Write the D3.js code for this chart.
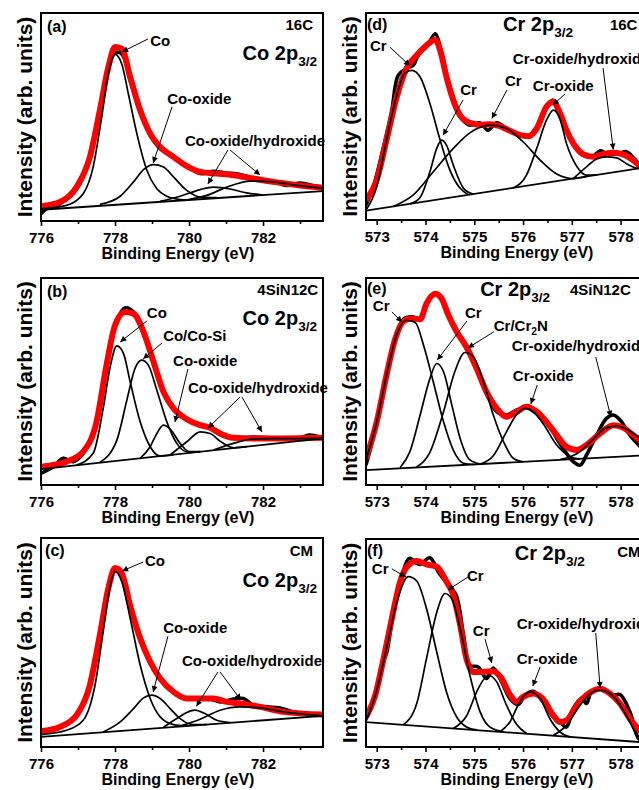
<!DOCTYPE html>
<html>
<head>
<meta charset="utf-8">
<script src="https://cdn.jsdelivr.net/npm/d3@7"></script>
<style>
  body { margin: 0; background: #fff; }
  svg { display: block; }
  text { font-family: "Liberation Sans", Arial, sans-serif; font-weight: bold; fill: #000; }
</style>
</head>
<body>
<svg id="chart" width="639" height="790"></svg>
<script>
// ---- axis ticks (eV) ----
const coTicks = [776, 778, 780, 782];
const coMinorTicks = [777, 779, 781, 783];
const crTicks = [573, 574, 575, 576, 577, 578];
const crMinorTicks = [573.5, 574.5, 575.5, 576.5, 577.5];

// ---- (a) 16C, Co 2p3/2 : [binding energy, intensity] ----
const envA = [[776.0,7.1],[776.51,9.1],[776.96,16.3],[777.32,30.8],[777.59,53.2],[777.82,74.0],[778.0,83.7],[778.18,82.9],[778.41,69.2],[778.68,53.2],[778.95,42.0],[779.22,35.6],[779.58,30.8],[779.94,26.4],[780.3,23.6],[780.75,22.8],[781.2,22.0],[781.74,20.4],[782.28,18.8],[783.0,17.1],[783.62,16.0]];
const dataA = [[776.0,3.5],[776.15,5.9],[776.51,8.3],[776.96,15.5],[777.32,30.0],[777.59,52.4],[777.82,73.2],[778.0,80.8],[778.18,80.4],[778.41,67.6],[778.68,52.4],[778.95,41.2],[779.22,34.8],[779.58,30.8],[779.8,27.6],[779.94,26.6],[780.3,22.8],[780.66,23.9],[781.02,23.1],[781.38,22.4],[781.92,19.6],[782.28,19.1],[782.64,17.1],[783.0,18.3],[783.36,17.0],[783.62,16.0]];
const bgA = [[776.0,5.4],[783.62,14.4]];
const coA = [[776.0,5.9],[776.69,7.5],[777.14,13.1],[777.41,26.0],[777.64,50.0],[777.82,70.8],[778.0,80.1],[778.18,75.6],[778.36,61.2],[778.59,42.0],[778.86,24.4],[779.13,15.5],[779.4,11.9],[779.76,10.3],[779.94,10.0]];
const coOxA = [[777.59,8.0],[778.14,11.9],[778.5,18.8],[778.77,24.7],[779.04,27.1],[779.31,26.0],[779.58,21.2],[779.94,14.7],[780.3,11.5],[780.75,11.2]];
const hydA1 = [[779.22,9.4],[779.76,11.9],[780.3,15.1],[780.66,16.3],[781.11,15.4],[781.56,13.5],[782.01,12.5]];
const hydA2 = [[779.94,10.1],[780.48,12.3],[781.02,16.3],[781.65,19.2],[782.28,18.8],[782.91,17.1],[783.62,15.7]];

// ---- (b) 4SiN12C, Co 2p3/2 ----
const envB = [[776.0,8.8],[776.69,11.3],[777.14,16.1],[777.5,30.5],[777.77,57.9],[778.0,77.2],[778.27,83.6],[778.5,82.8],[778.77,74.0],[779.04,59.5],[779.31,45.0],[779.58,37.0],[779.94,31.8],[780.3,28.9],[780.57,27.7],[780.84,24.9],[781.2,22.8],[781.74,22.5],[782.55,22.5],[783.62,22.8]];
const dataB = [[776.0,5.6],[776.33,8.8],[776.6,12.9],[776.87,11.3],[777.14,15.3],[777.5,29.7],[777.77,57.1],[778.0,76.4],[778.27,85.5],[778.5,83.6],[778.77,73.2],[779.04,58.7],[779.31,44.2],[779.58,36.7],[779.94,31.4],[780.3,29.3],[780.57,27.3],[780.84,24.4],[781.2,22.5],[781.74,23.2],[782.19,22.8],[782.55,22.2],[783.0,22.8],[783.27,24.1],[783.62,22.5]];
const bgB = [[776.0,7.7],[783.62,22.5]];
const coB = [[776.96,9.6],[777.41,15.3],[777.68,37.0],[777.86,56.3],[778.05,67.2],[778.23,63.5],[778.41,49.8],[778.68,30.5],[778.95,18.5],[779.22,14.0],[779.58,14.7]];
const coSiB = [[777.59,10.9],[778.05,21.7],[778.32,41.0],[778.54,56.3],[778.72,60.3],[778.9,57.9],[779.13,45.8],[779.4,30.5],[779.67,20.1],[779.94,16.1],[780.3,16.1]];
const coOxB = [[778.68,12.9],[778.95,18.5],[779.13,24.9],[779.31,28.9],[779.49,27.0],[779.76,20.1],[780.03,15.8],[780.3,16.1]];
const hydB1 = [[779.49,14.5],[779.94,20.9],[780.3,25.7],[780.57,24.9],[780.84,21.2],[781.2,18.0],[781.56,18.5]];
const hydB2 = [[780.66,16.9],[781.2,20.1],[781.74,22.3],[782.28,22.4],[782.82,22.4],[783.62,22.5]];

// ---- (c) CM, Co 2p3/2 ----
const envC = [[776.0,7.5],[776.51,9.6],[776.96,15.2],[777.32,29.6],[777.59,53.6],[777.82,76.0],[778.0,85.6],[778.18,83.2],[778.41,67.5],[778.68,52.0],[778.95,40.8],[779.22,32.8],[779.58,26.4],[779.94,23.2],[780.3,23.2],[780.66,23.2],[781.02,21.6],[781.38,20.8],[781.92,19.2],[782.55,16.8],[783.62,15.5]];
const dataC = [[776.0,6.4],[776.24,8.5],[776.51,9.4],[776.96,14.9],[777.32,29.3],[777.59,53.3],[777.82,75.2],[778.0,84.3],[778.18,82.4],[778.41,67.2],[778.68,51.2],[778.95,40.0],[779.22,32.5],[779.58,26.4],[779.8,23.5],[780.12,22.9],[780.48,23.5],[780.84,21.6],[781.2,22.9],[781.47,23.2],[781.74,20.0],[782.1,19.2],[782.46,18.7],[782.82,16.8],[783.18,16.0],[783.62,15.2]];
const bgC = [[776.0,4.8],[783.62,14.9]];
const coC = [[776.0,5.9],[776.69,8.0],[777.14,12.8],[777.46,29.6],[777.68,55.2],[777.86,76.0],[778.0,84.0],[778.18,79.2],[778.41,61.6],[778.68,39.2],[778.95,23.2],[779.22,14.4],[779.58,10.7],[779.94,10.0]];
const coOxC = [[777.68,7.2],[778.14,12.0],[778.5,18.4],[778.77,23.5],[778.99,24.8],[779.22,23.2],[779.49,18.4],[779.76,13.6],[780.12,10.7],[780.48,10.7]];
const hydC1 = [[779.31,9.4],[779.67,13.6],[779.94,16.5],[780.16,17.6],[780.43,16.0],[780.75,12.8],[781.11,11.7]];
const hydC2 = [[779.76,10.0],[780.3,13.3],[780.84,17.6],[781.38,19.2],[781.92,18.7],[782.55,16.8],[783.62,14.9]];

// ---- (d) 16C, Cr 2p3/2 ----
const envD = [[572.78,9.6],[573.0,19.3],[573.2,38.6],[573.41,59.5],[573.61,73.2],[573.82,79.6],[574.02,84.4],[574.2,87.1],[574.3,82.0],[574.43,69.1],[574.57,57.9],[574.71,50.6],[574.91,46.9],[575.12,46.0],[575.32,46.3],[575.53,45.3],[575.73,43.1],[575.94,41.0],[576.11,40.5],[576.28,44.2],[576.48,54.7],[576.62,57.1],[576.76,51.4],[576.89,43.4],[577.03,37.0],[577.23,31.8],[577.44,30.5],[577.64,31.8],[577.85,32.5],[578.05,31.7],[578.26,28.9],[578.37,26.5],[578.5,24.5]];
const dataD = [[572.78,7.2],[572.93,16.1],[573.14,35.4],[573.31,53.1],[573.44,69.9],[573.61,73.2],[573.75,74.8],[573.85,79.6],[574.02,83.6],[574.2,90.0],[574.3,83.6],[574.43,69.9],[574.57,57.1],[574.71,49.8],[574.91,45.8],[575.12,46.9],[575.28,43.4],[575.46,46.9],[575.66,44.2],[575.94,41.0],[576.11,40.2],[576.28,44.7],[576.48,55.0],[576.62,57.9],[576.76,50.6],[576.89,43.1],[577.03,36.7],[577.23,31.2],[577.44,30.9],[577.58,33.4],[577.71,32.2],[577.92,31.8],[578.12,33.0],[578.29,29.3],[578.37,27.3],[578.5,25.0]];
const bgD = [[572.78,4.5],[578.5,25.4]];
const cr1D = [[572.78,4.8],[573.0,16.1],[573.2,38.6],[573.41,60.3],[573.58,71.1],[573.72,72.3],[573.89,69.1],[574.09,56.3],[574.3,38.6],[574.5,24.1],[574.71,15.3],[574.88,12.2]];
const cr2D = [[573.68,7.8],[573.89,10.9],[574.09,23.3],[574.23,34.6],[574.33,38.6],[574.43,36.2],[574.57,26.5],[574.78,15.3],[574.98,12.5]];
const cr3D = [[573.34,6.5],[573.75,12.1],[574.16,23.3],[574.57,34.6],[574.91,42.1],[575.32,45.8],[575.66,44.2],[576.0,37.8],[576.35,28.9],[576.69,22.2],[577.03,20.0],[577.3,21.0]];
const crOxD = [[575.8,15.5],[576.07,21.7],[576.28,34.6],[576.48,48.2],[576.62,53.1],[576.76,48.6],[576.89,37.0],[577.1,26.0],[577.3,21.7],[577.51,21.8]];
const hydD = [[577.03,20.0],[577.3,25.7],[577.51,29.5],[577.71,30.5],[577.92,30.0],[578.12,27.2],[578.37,24.9],[578.5,25.4]];

// ---- (e) 4SiN12C, Cr 2p3/2 ----
const envE = [[572.78,12.9],[573.0,30.5],[573.2,53.1],[573.38,70.7],[573.55,79.1],[573.72,80.4],[573.89,80.1],[574.02,87.6],[574.2,92.4],[574.33,90.0],[574.47,82.0],[574.64,74.0],[574.84,66.7],[575.05,56.3],[575.25,45.0],[575.46,37.0],[575.66,33.0],[575.87,35.4],[576.07,37.8],[576.28,35.4],[576.48,30.5],[576.69,24.1],[576.89,18.5],[577.1,16.9],[577.3,19.3],[577.58,24.9],[577.85,28.9],[578.05,27.7],[578.26,24.1],[578.37,22.2],[578.5,19.5]];
const dataE = [[572.78,9.6],[573.0,29.7],[573.2,52.3],[573.38,70.4],[573.55,80.1],[573.72,81.2],[573.89,80.4],[574.02,87.6],[574.2,92.9],[574.33,90.0],[574.47,82.0],[574.64,74.0],[574.84,65.9],[575.05,55.5],[575.25,44.2],[575.46,35.4],[575.66,33.8],[575.87,36.2],[576.07,37.3],[576.28,34.6],[576.45,31.8],[576.69,22.5],[576.89,15.3],[577.03,11.3],[577.17,9.6],[577.3,14.5],[577.51,24.1],[577.71,32.2],[577.85,33.8],[577.99,31.4],[578.19,24.1],[578.37,19.3],[578.5,16.0]];
const bgE = [[572.78,7.2],[578.5,14.3]];
const cr1E = [[572.78,12.1],[573.0,30.5],[573.2,53.1],[573.41,72.7],[573.6,79.6],[573.79,78.5],[573.96,67.5],[574.16,49.8],[574.37,30.5],[574.57,16.9],[574.78,10.5],[574.98,9.9]];
const cr2E = [[573.48,8.4],[573.68,16.1],[573.89,33.8],[574.09,51.4],[574.23,58.7],[574.37,54.7],[574.54,38.6],[574.71,22.5],[574.91,12.1],[575.12,10.1]];
const cr3E = [[573.82,8.8],[574.09,15.8],[574.37,35.4],[574.6,54.7],[574.81,64.0],[574.98,61.9],[575.19,49.8],[575.39,33.8],[575.6,20.9],[575.8,12.9],[576.0,11.2]];
const crOxE = [[575.12,10.1],[575.39,14.1],[575.66,25.7],[575.87,34.1],[576.04,37.0],[576.21,35.4],[576.42,29.3],[576.69,19.3],[576.96,13.8],[577.17,12.6]];
const hydE = [[576.76,12.3],[577.17,16.1],[577.44,22.2],[577.71,27.7],[577.92,28.5],[578.12,27.0],[578.37,23.0],[578.5,20.5]];

// ---- (f) CM, Cr 2p3/2 ----
const envF = [[572.78,14.4],[572.97,24.9],[573.14,42.5],[573.31,61.8],[573.48,79.5],[573.65,87.5],[573.82,89.4],[574.02,87.8],[574.23,86.7],[574.43,79.5],[574.57,73.0],[574.71,58.6],[574.84,42.5],[574.98,36.1],[575.19,36.1],[575.39,36.4],[575.56,32.9],[575.73,25.2],[575.87,21.7],[576.0,24.1],[576.21,25.7],[576.41,23.0],[576.62,15.2],[576.76,12.0],[576.89,12.8],[577.1,20.1],[577.3,24.9],[577.58,28.0],[577.78,25.7],[577.99,20.9],[578.19,13.6],[578.37,8.5],[578.5,5.5]];
const dataF = [[572.78,13.6],[572.97,24.1],[573.1,39.3],[573.2,44.9],[573.31,60.2],[573.48,78.7],[573.67,90.7],[573.82,88.3],[573.89,87.8],[574.09,91.0],[574.26,84.3],[574.36,81.1],[574.5,77.0],[574.63,73.0],[574.78,53.8],[574.91,39.3],[575.08,38.5],[575.25,32.9],[575.39,38.0],[575.56,31.3],[575.73,23.3],[575.9,20.4],[576.04,24.9],[576.21,26.8],[576.41,21.7],[576.62,14.4],[576.76,12.0],[576.89,9.6],[577.03,18.5],[577.2,23.3],[577.3,20.9],[577.4,26.5],[577.61,28.1],[577.82,24.9],[577.99,25.2],[578.19,16.9],[578.37,4.0],[578.5,2.5]];
const bgF = [[572.78,12.0],[578.5,2.2]];
const cr1F = [[572.78,12.3],[572.99,26.5],[573.2,47.4],[573.41,69.5],[573.65,81.9],[573.82,79.8],[574.02,66.6],[574.23,45.7],[574.43,26.5],[574.64,14.4],[574.84,9.6],[575.05,8.2]];
const cr2F = [[573.55,10.7],[573.82,20.9],[574.02,42.5],[574.23,64.7],[574.4,73.8],[574.54,71.1],[574.71,57.0],[574.91,34.5],[575.12,16.9],[575.32,9.6],[575.6,7.3]];
const cr3F = [[574.57,8.9],[574.84,14.9],[575.08,28.1],[575.29,34.5],[575.46,31.3],[575.66,20.1],[575.87,10.8],[576.07,6.5]];
const crOxF = [[575.53,7.3],[575.73,12.0],[575.94,22.0],[576.14,26.5],[576.35,23.3],[576.55,13.6],[576.76,7.2],[576.96,4.9]];
const hydF = [[576.62,5.6],[576.89,10.4],[577.17,20.1],[577.41,26.2],[577.58,27.3],[577.78,25.7],[577.99,20.1],[578.19,12.0],[578.37,4.0],[578.5,2.3]];

// ---- annotations (placed in data coordinates) ----
const notesA = [
  {text: '(a)', x: 776.16, y: 90.9, size: 16},
  {text: '16C', x: 783.35, y: 91.8, anchor: 'end'},
  {text: 'Co 2p_{3/2}', x: 783.46, y: 77.4, size: 20, anchor: 'end'},
  {text: 'Co', x: 778.95, y: 84.1, arrows: [[778.89, 87.5, 778.19, 81.3]]},
  {text: 'Co-oxide', x: 779.41, y: 56.3, arrows: [[779.54, 54.8, 779.03, 27.9]]},
  {text: 'Co-oxide/hydroxide', x: 779.89, y: 36.1, arrows: [[781.05, 34.1, 780.51, 17.8], [781.11, 34.1, 781.92, 22.1]]}
];
const notesB = [
  {text: '(b)', x: 776.16, y: 90.8, size: 16},
  {text: '4SiN12C', x: 783.49, y: 91.8, anchor: 'end'},
  {text: 'Co 2p_{3/2}', x: 783.46, y: 77.3, size: 20, anchor: 'end'},
  {text: 'Co', x: 778.86, y: 80.7, arrows: [[778.86, 79.2, 778.14, 69.1]]},
  {text: 'Co/Co-Si', x: 779.30, y: 69.6, arrows: [[779.27, 68.6, 778.76, 60.9]]},
  {text: 'Co-oxide', x: 779.57, y: 57.5, arrows: [[779.97, 56.0, 779.62, 30.4]]},
  {text: 'Co-oxide/hydroxide', x: 779.97, y: 44.4, arrows: [[781.38, 42.5, 780.51, 27.5], [781.43, 42.5, 781.97, 25.6]]}
];
const notesC = [
  {text: '(c)', x: 776.11, y: 91.4, size: 16},
  {text: 'CM', x: 783.35, y: 91.4, anchor: 'end'},
  {text: 'Co 2p_{3/2}', x: 783.46, y: 76.6, size: 20, anchor: 'end'},
  {text: 'Co', x: 778.81, y: 86.6, arrows: [[778.76, 88.5, 778.19, 84.2]]},
  {text: 'Co-oxide', x: 779.30, y: 54.5, arrows: [[779.43, 53.0, 779.03, 26.3]]},
  {text: 'Co-oxide/hydroxide', x: 779.81, y: 38.8, arrows: [[780.78, 35.9, 780.2, 19.5], [780.84, 35.9, 781.4, 22.5]]}
];
const notesD = [
  {text: '(d)', x: 572.80, y: 91.8, size: 16},
  {text: 'Cr 2p_{3/2}', x: 575.59, y: 91.3, size: 20},
  {text: '16C', x: 577.78, y: 91.8},
  {text: 'Cr', x: 572.86, y: 81.6, arrows: [[573.27, 83.5, 573.68, 74.5]]},
  {text: 'Cr', x: 574.71, y: 60.4, arrows: [[574.77, 58.0, 574.36, 41.0]]},
  {text: 'Cr', x: 575.63, y: 64.7, arrows: [[575.67, 62.8, 575.36, 49.0]]},
  {text: 'Cr-oxide', x: 576.20, y: 62.3, arrows: [[576.86, 60.9, 576.61, 55.5]]},
  {text: 'Cr-oxide/hydroxide', x: 575.79, y: 75.4, arrows: [[577.64, 73.4, 577.85, 34.0]]}
];
const notesE = [
  {text: '(e)', x: 572.80, y: 92.3, size: 16},
  {text: 'Cr 2p_{3/2}', x: 575.12, y: 91.3, size: 20},
  {text: '4SiN12C', x: 576.96, y: 91.8},
  {text: 'Cr', x: 572.92, y: 84.1, arrows: [[573.31, 83.6, 573.52, 78.7]]},
  {text: 'Cr', x: 574.81, y: 80.7, arrows: [[574.85, 79.2, 574.24, 60.4]]},
  {text: 'Cr/Cr_{2}N', x: 575.40, y: 74.6, arrows: [[575.40, 74.0, 574.87, 66.2]]},
  {text: 'Cr-oxide/hydroxide', x: 575.77, y: 64.6, arrows: [[577.49, 61.8, 577.80, 32.9]]},
  {text: 'Cr-oxide', x: 575.79, y: 50.2, arrows: [[576.29, 48.3, 576.16, 39.1]]}
];
const notesF = [
  {text: '(f)', x: 572.80, y: 91.8, size: 16},
  {text: 'Cr 2p_{3/2}', x: 575.83, y: 89.9, size: 20},
  {text: 'CM', x: 577.93, y: 91.3},
  {text: 'Cr', x: 572.90, y: 83.2, arrows: [[573.31, 85.6, 573.60, 81.7]]},
  {text: 'Cr', x: 574.85, y: 79.8, arrows: [[574.87, 81.7, 574.46, 75.5]]},
  {text: 'Cr', x: 574.97, y: 53.4, arrows: [[575.22, 51.9, 575.36, 40.4]]},
  {text: 'Cr-oxide/hydroxide', x: 575.87, y: 56.7, arrows: [[577.49, 54.8, 577.58, 28.4]]},
  {text: 'Cr-oxide', x: 575.87, y: 39.9, arrows: [[576.35, 38.5, 576.20, 29.3]]}
];

// ---- layout ----
const columns = {
  co: {left: 41, right: 323, domain: [776, 783.62], ticks: coTicks, minor: coMinorTicks, yTitleX: 25, xTitleX: 178},
  cr: {left: 366, right: 645, domain: [572.78, 578.5], ticks: crTicks, minor: crMinorTicks, yTitleX: 350, xTitleX: 517}
};

const panels = [
  {id: 'a', col: 'co', top: 13, bottom: 221, data: dataA, env: envA, bg: bgA, peaks: [coA, coOxA, hydA1, hydA2], notes: notesA},
  {id: 'b', col: 'co', top: 278, bottom: 485, data: dataB, env: envB, bg: bgB, peaks: [coB, coSiB, coOxB, hydB1, hydB2], notes: notesB},
  {id: 'c', col: 'co', top: 538, bottom: 747, data: dataC, env: envC, bg: bgC, peaks: [coC, coOxC, hydC1, hydC2], notes: notesC},
  {id: 'd', col: 'cr', top: 13, bottom: 220, data: dataD, env: envD, bg: bgD, peaks: [cr1D, cr2D, cr3D, crOxD, hydD], notes: notesD},
  {id: 'e', col: 'cr', top: 278, bottom: 485, data: dataE, env: envE, bg: bgE, peaks: [cr1E, cr2E, cr3E, crOxE, hydE], notes: notesE},
  {id: 'f', col: 'cr', top: 539, bottom: 747, data: dataF, env: envF, bg: bgF, peaks: [cr1F, cr2F, cr3F, crOxF, hydF], notes: notesF}
];

const svg = d3.select('#chart');
svg.append('rect').attr('width', 639).attr('height', 790).attr('fill', '#fff');

const defs = svg.append('defs');
defs.append('marker')
  .attr('id', 'arrowhead')
  .attr('viewBox', '0 0 10 10')
  .attr('refX', 10).attr('refY', 5)
  .attr('markerWidth', 7).attr('markerHeight', 6)
  .attr('markerUnits', 'userSpaceOnUse')
  .attr('orient', 'auto')
  .append('path').attr('d', 'M0,0L10,5L0,10z').attr('fill', '#000');

// text with _{...} subscripts
function richText(sel, str, size) {
  const parts = str.split(/_\{([^}]*)\}/);
  let shift = 0;
  parts.forEach((p, i) => {
    if (!p) return;
    const t = sel.append('tspan').text(p);
    if (i % 2 === 1) {
      const s = size * 0.3;
      t.attr('font-size', size * 0.68).attr('dy', s - shift);
      shift = s;
    } else if (shift) {
      t.attr('dy', -shift);
      shift = 0;
    }
  });
}

panels.forEach(p => {
  const col = columns[p.col];
  const x = d3.scaleLinear().domain(col.domain).range([col.left, col.right]);
  const y = d3.scaleLinear().domain([0, 100]).range([p.bottom, p.top]);
  const g = svg.append('g').attr('class', 'panel-' + p.id);

  defs.append('clipPath').attr('id', 'clip-' + p.id)
    .append('rect')
    .attr('x', col.left).attr('y', p.top)
    .attr('width', col.right - col.left).attr('height', p.bottom - p.top);

  const plot = g.append('g').attr('clip-path', `url(#clip-${p.id})`);
  const smooth = d3.line().x(d => x(d[0])).y(d => y(d[1])).curve(d3.curveMonotoneX);
  const raw = d3.line().x(d => x(d[0])).y(d => y(d[1])).curve(d3.curveCatmullRom.alpha(0.5));

  // measured spectrum, envelope, fitted peaks, background
  plot.append('path').datum(p.data).attr('d', raw)
    .attr('fill', 'none').attr('stroke', '#000').attr('stroke-width', 3.6).attr('stroke-linejoin', 'round');
  plot.append('path').datum(p.env).attr('d', smooth)
    .attr('fill', 'none').attr('stroke', '#ff0000').attr('stroke-width', 6).attr('stroke-linejoin', 'round');
  p.peaks.forEach(pk => {
    plot.append('path').datum(pk).attr('d', smooth)
      .attr('fill', 'none').attr('stroke', '#000').attr('stroke-width', 1.7);
  });
  plot.append('path').datum(p.bg).attr('d', d3.line().x(d => x(d[0])).y(d => y(d[1])))
    .attr('fill', 'none').attr('stroke', '#000').attr('stroke-width', 1.8);

  // frame
  g.append('rect')
    .attr('x', col.left).attr('y', p.top)
    .attr('width', col.right - col.left).attr('height', p.bottom - p.top)
    .attr('fill', 'none').attr('stroke', '#000').attr('stroke-width', 2);

  // bottom axis: major + minor ticks
  const ax = g.append('g').attr('transform', `translate(0,${p.bottom})`)
    .call(d3.axisBottom(x).tickValues(col.ticks).tickFormat(d3.format('d')).tickSize(5).tickPadding(6));
  ax.select('.domain').remove();
  ax.selectAll('line').attr('stroke-width', 1.6);
  ax.selectAll('text').attr('font-size', 15).attr('font-family', '"Liberation Sans", Arial, sans-serif').attr('font-weight', 'bold');
  const axm = g.append('g').attr('transform', `translate(0,${p.bottom})`)
    .call(d3.axisBottom(x).tickValues(col.minor).tickFormat('').tickSize(3));
  axm.select('.domain').remove();
  axm.selectAll('line').attr('stroke-width', 1.6);

  // axis titles
  g.append('text')
    .attr('x', col.xTitleX).attr('y', p.bottom + 38)
    .attr('text-anchor', 'middle').attr('font-size', 16)
    .text('Binding Energy (eV)');
  g.append('text')
    .attr('transform', `translate(${col.yTitleX},${(p.top + p.bottom) / 2}) rotate(-90)`)
    .attr('text-anchor', 'middle').attr('dy', '0.35em').attr('font-size', 21)
    .text('Intensity (arb. units)');

  // labels and arrows
  p.notes.forEach(n => {
    const size = n.size || 15;
    const t = g.append('text')
      .attr('x', x(n.x)).attr('y', y(n.y))
      .attr('font-size', size)
      .attr('text-anchor', n.anchor || 'start');
    richText(t, n.text, size);
    (n.arrows || []).forEach(a => {
      g.append('line')
        .attr('x1', x(a[0])).attr('y1', y(a[1]))
        .attr('x2', x(a[2])).attr('y2', y(a[3]))
        .attr('stroke', '#000').attr('stroke-width', 1)
        .attr('marker-end', 'url(#arrowhead)');
    });
  });
});
</script>
</body>
</html>
